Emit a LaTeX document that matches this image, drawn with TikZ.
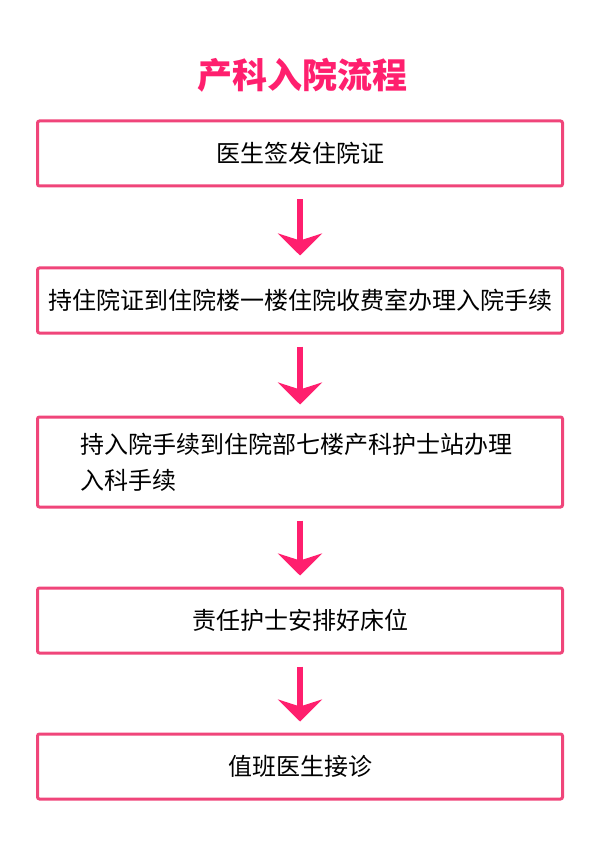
\documentclass[tikz,border=0pt]{standalone}
\usepackage{fontspec}
\setmainfont{Noto Sans CJK SC}
\usepackage{tikz}
\usetikzlibrary{arrows.meta}

\definecolor{boxpink}{HTML}{F0457A}
\definecolor{arrowpink}{HTML}{FF1F6E}

\begin{document}
\begin{tikzpicture}[x=1pt,y=-1pt,
    stepbox/.style={draw=boxpink,line width=3pt,rounded corners=2pt,
      minimum width=525pt,inner sep=0pt,font=\fontsize{24}{36}\selectfont},
    flow/.style={arrowpink,line width=6pt,
      -{Stealth[length=22pt,width=44pt,inset=7pt]},
      shorten <=12pt,shorten >=11pt}]
          \useasboundingbox (0,0) rectangle (600,858);

          \node[arrowpink,font=\fontsize{35}{40}\selectfont\bfseries] (title) at (302,75) {产科入院流程};

          \node[stepbox,minimum height=65pt] (doctor) at (300,153.5) {医生签发住院证};
          \node[stepbox,minimum height=65pt] (admit) at (300,300.5) {持住院证到住院楼一楼住院收费室办理入院手续};
          \node[stepbox,minimum height=90pt,text width=440pt,align=left] (ward) at (300,462)
            {持入院手续到住院部七楼产科护士站办理\\入科手续};
          \node[stepbox,minimum height=65pt] (bed) at (300,620.5) {责任护士安排好床位};
          \node[stepbox,minimum height=65pt] (visit) at (300,766.5) {值班医生接诊};

          \draw[flow] (doctor) -- (admit);
          \draw[flow] (admit) -- (ward);
          \draw[flow] (ward) -- (bed);
          \draw[flow] (bed) -- (visit);
        \end{tikzpicture}
\end{document}
